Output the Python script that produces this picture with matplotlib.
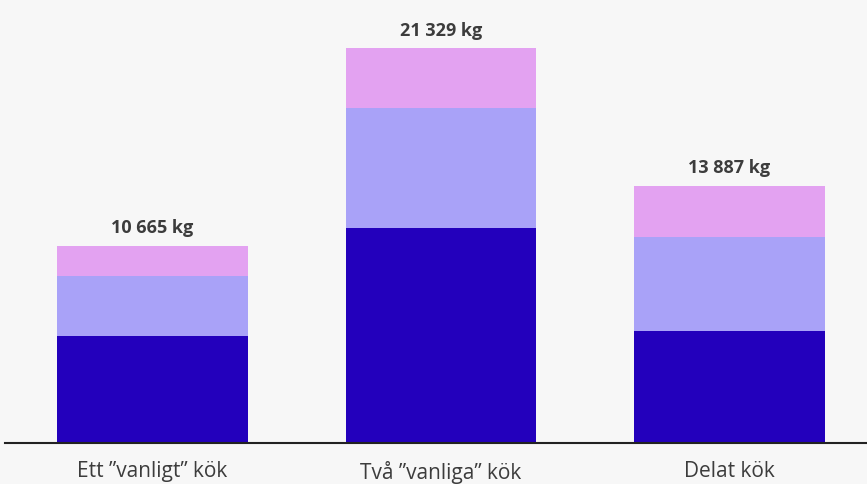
import matplotlib.pyplot as plt

# ---------- Data ----------
categories = ["Ett \u201dvanligt\u201d kök", "Två \u201dvanliga\u201d kök", "Delat kök"]
dark_part = [5810, 11620, 6050]
mid_part = [3240, 6480, 5080]
top_part = [1615, 3229, 2757]
total_labels = ["10 665 kg", "21 329 kg", "13 887 kg"]

colors = ["#2300BC", "#A9A2F8", "#E3A2F1"]

plt.rcParams["font.family"] = ["Open Sans", "DejaVu Sans"]

fig = plt.figure(figsize=(8.67, 4.85), dpi=100)
fig.patch.set_facecolor("#F7F7F7")
ax = fig.add_axes([0.006, 0.0845, 0.994, 0.9155])
ax.set_facecolor("#F7F7F7")

x = range(len(categories))
bottoms2 = [a + b for a, b in zip(dark_part, mid_part)]
totals = [a + b + c for a, b, c in zip(dark_part, mid_part, top_part)]

ax.bar(x, dark_part, width=0.662, color=colors[0])
ax.bar(x, mid_part, width=0.662, bottom=dark_part, color=colors[1])
ax.bar(x, top_part, width=0.662, bottom=bottoms2, color=colors[2])

for i, t in enumerate(totals):
    ax.annotate(total_labels[i], (i, t), xytext=(0, 7), textcoords="offset points",
                ha="center", va="bottom", fontsize=13, fontweight="bold", color="#3C3C3C")

ax.set_xlim(-0.511, 2.477)
ax.set_ylim(0, 24000)
ax.set_xticks(list(x))
ax.set_xticklabels(categories, fontsize=15, color="#3C3C3C")
ax.tick_params(axis="x", length=0, pad=12)
ax.set_yticks([])
for side in ["top", "right", "left"]:
    ax.spines[side].set_visible(False)
ax.spines["bottom"].set_color("#222222")
ax.spines["bottom"].set_linewidth(1.5)

fig.savefig("out.png", dpi=100, facecolor=fig.get_facecolor())
